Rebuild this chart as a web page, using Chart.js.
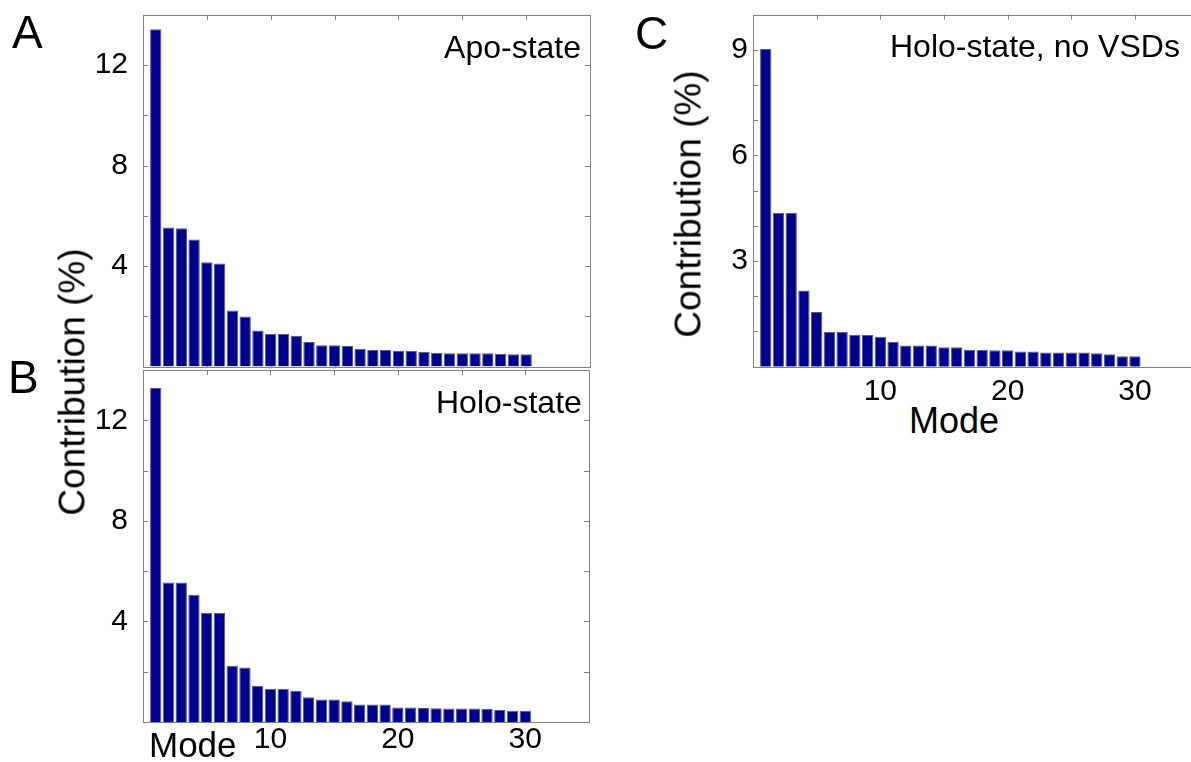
<!DOCTYPE html>
<html lang="en">
<head>
  <meta charset="UTF-8">
  <title>Mode contributions</title>
  <script src="https://cdn.jsdelivr.net/npm/chart.js"></script>
  <style>
    html, body {
      margin: 0;
      padding: 0;
      overflow: hidden;
      background: #fff;
    }
    body {
      position: relative;
      width: 1191px;
      height: 762px;
      font-family: 'Liberation Sans', Arial, sans-serif;
    }
    .panel { position: absolute; }
    .lbl {
      position: absolute;
      white-space: nowrap;
      line-height: 1;
      color: #000;
    }
    .rot { transform: translate(-50%, -50%) rotate(-90deg); }
  </style>
</head>
<body>
  <div class="panel" style="left:0;top:0;width:600px;height:368px"><canvas id="chartA"></canvas></div>
  <div class="panel" style="left:0;top:360px;width:600px;height:402px"><canvas id="chartB"></canvas></div>
  <div class="panel" style="left:610px;top:0;width:600px;height:400px"><canvas id="chartC"></canvas></div>

  <div class="lbl" style="left:12px;top:9px;font-size:46px">A</div>
  <div class="lbl" style="left:8px;top:354px;font-size:46px">B</div>
  <div class="lbl" style="left:635px;top:10px;font-size:46px">C</div>

  <div class="lbl" style="right:610px;top:31px;font-size:32px">Apo-state</div>
  <div class="lbl" style="left:436px;top:386px;font-size:32px">Holo-state</div>
  <div class="lbl" style="left:890px;top:30px;font-size:32px">Holo-state, no VSDs</div>

  <div class="lbl rot" style="left:72px;top:382px;font-size:37px">Contribution (%)</div>
  <div class="lbl rot" style="left:688px;top:204px;font-size:37px">Contribution (%)</div>
  <div class="lbl" style="left:149px;top:727px;font-size:35px">Mode</div>
  <div class="lbl" style="left:909px;top:403px;font-size:36px">Mode</div>

  <script>
    const modes = [1, 2, 3, 4, 5, 6, 7, 8, 9, 10, 11, 12, 13, 14, 15,
                   16, 17, 18, 19, 20, 21, 22, 23, 24, 25, 26, 27, 28, 29, 30];

    // contribution (%) per mode
    const apoState = [13.43, 5.54, 5.51, 5.06, 4.15, 4.10, 2.23, 1.99, 1.43, 1.30,
                      1.30, 1.22, 0.98, 0.85, 0.85, 0.82, 0.71, 0.66, 0.66, 0.62,
                      0.62, 0.59, 0.55, 0.53, 0.53, 0.53, 0.53, 0.50, 0.49, 0.49];
    const holoState = [13.28, 5.55, 5.55, 5.06, 4.35, 4.35, 2.24, 2.17, 1.44, 1.32,
                       1.32, 1.24, 0.98, 0.89, 0.89, 0.83, 0.70, 0.70, 0.70, 0.58,
                       0.58, 0.56, 0.55, 0.54, 0.54, 0.54, 0.53, 0.48, 0.45, 0.45];
    const holoNoVSD = [9.02, 4.37, 4.37, 2.16, 1.55, 0.99, 0.99, 0.90, 0.90, 0.85,
                       0.71, 0.60, 0.60, 0.60, 0.55, 0.55, 0.48, 0.48, 0.47, 0.47,
                       0.43, 0.43, 0.40, 0.40, 0.40, 0.40, 0.38, 0.35, 0.30, 0.30];

    const xTickMarks = [5, 10, 15, 20, 25, 30];
    const xTickLabels = [10, 20, 30];
    const yTickMarksAB = [2, 4, 6, 8, 10, 12];
    const yTickLabelsAB = [4, 8, 12];
    const yTickMarksC = [1, 2, 3, 4, 5, 6, 7, 8, 9];
    const yTickLabelsC = [3, 6, 9];

    const FONT = "'Liberation Sans', Arial, sans-serif";

    // box around the axes with small inward ticks, drawn under the bars
    const framePlugin = {
      id: 'frame',
      beforeDatasetsDraw(chart, args, opts) {
        const { ctx, chartArea: a, scales: { x, y } } = chart;
        ctx.save();
        ctx.strokeStyle = '#808080';
        ctx.lineWidth = 1;
        ctx.beginPath();
        opts.yTicks.forEach(v => {
          const py = Math.round(y.getPixelForValue(v)) + 0.5;
          ctx.moveTo(a.left, py); ctx.lineTo(a.left + 5, py);
          ctx.moveTo(a.right, py); ctx.lineTo(a.right - 5, py);
        });
        opts.xTicks.forEach(v => {
          const px = Math.round(x.getPixelForValue(v)) + 0.5;
          ctx.moveTo(px, a.top); ctx.lineTo(px, a.top + 5);
          ctx.moveTo(px, a.bottom); ctx.lineTo(px, a.bottom - 5);
        });
        ctx.stroke();
        ctx.strokeRect(Math.round(a.left) + 0.5, Math.round(a.top) + 0.5,
                       Math.round(a.right - a.left), Math.round(a.bottom - a.top));
        ctx.restore();
      }
    };

    // keep label overhang from shrinking the plot box
    function noOverhang(s) {
      s.paddingTop = 0; s.paddingBottom = 0;
      s.paddingLeft = 0; s.paddingRight = 0;
    }

    function makePanel(id, values, cfg) {
      const ctx = document.getElementById(id).getContext('2d');
      return new Chart(ctx, {
        type: 'bar',
        data: {
          datasets: [{
            data: modes.map((m, i) => ({ x: m, y: values[i] })),
            backgroundColor: '#00008f',
            borderColor: '#5a5a7a',
            borderWidth: 1,
            barPercentage: 0.89,
            categoryPercentage: 1
          }]
        },
        options: {
          responsive: true,
          maintainAspectRatio: false,
          animation: false,
          layout: { padding: cfg.padding },
          scales: {
            x: {
              type: 'linear',
              min: 0,
              max: 35,
              offset: false,
              display: cfg.xLabels,
              grid: { display: false, drawTicks: false },
              border: { display: false },
              ticks: {
                autoSkip: false,
                maxRotation: 0,
                padding: cfg.xPad,
                color: '#000',
                font: { family: FONT, size: 30 }
              },
              afterBuildTicks: s => { s.ticks = xTickLabels.map(v => ({ value: v })); },
              afterFit: s => { s.height = cfg.xHeight; noOverhang(s); }
            },
            y: {
              min: 0,
              max: cfg.yMax,
              grid: { display: false, drawTicks: false },
              border: { display: false },
              ticks: {
                autoSkip: false,
                padding: cfg.yPad,
                color: '#000',
                font: { family: FONT, size: 30 }
              },
              afterBuildTicks: s => { s.ticks = cfg.yLabels.map(v => ({ value: v })); },
              afterFit: s => { s.width = 143; noOverhang(s); }
            }
          },
          plugins: {
            legend: { display: false },
            tooltip: { enabled: false },
            frame: { xTicks: xTickMarks, yTicks: cfg.yMarks }
          }
        },
        plugins: [framePlugin]
      });
    }

    makePanel('chartA', apoState, {
      padding: { top: 15, right: 10, bottom: 1.5, left: 0 },
      xLabels: false, xHeight: 0, xPad: 0,
      yMax: 14, yMarks: yTickMarksAB, yLabels: yTickLabelsAB, yPad: 15
    });

    makePanel('chartB', holoState, {
      padding: { top: 10, right: 11, bottom: 0, left: 0 },
      xLabels: true, xHeight: 40, xPad: 0,
      yMax: 14, yMarks: yTickMarksAB, yLabels: yTickLabelsAB, yPad: 15
    });

    makePanel('chartC', holoNoVSD, {
      padding: { top: 14.5, right: 11.4, bottom: 0, left: 0 },
      xLabels: true, xHeight: 33.3, xPad: 7,
      yMax: 10, yMarks: yTickMarksC, yLabels: yTickLabelsC, yPad: 5
    });
  </script>
</body>
</html>
